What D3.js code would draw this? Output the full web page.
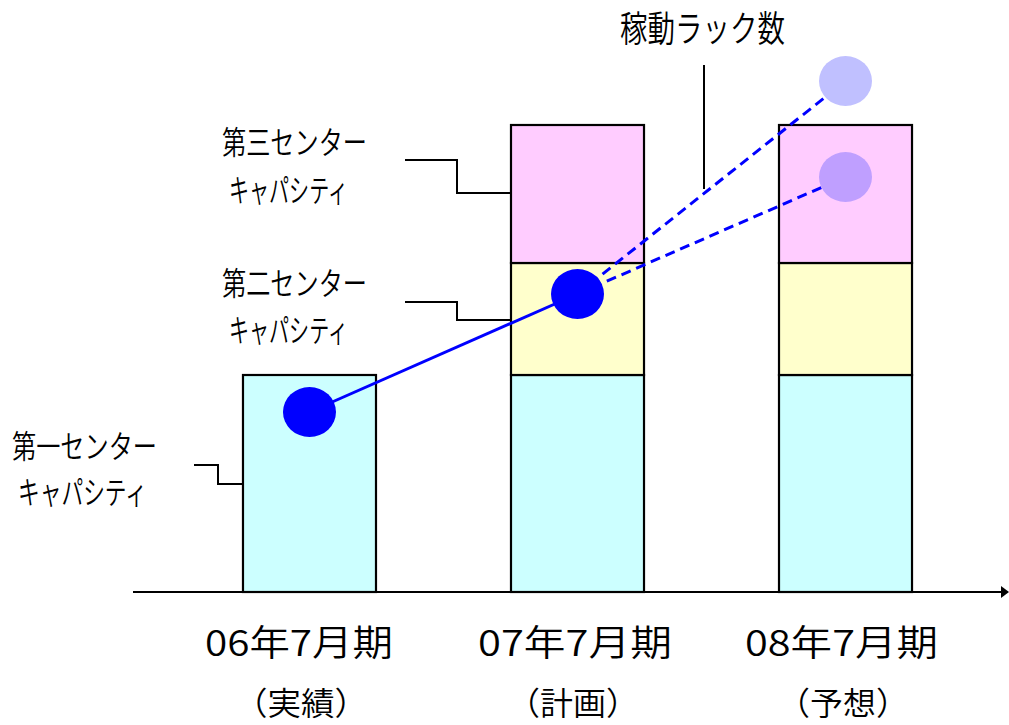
<!DOCTYPE html>
<html><head><meta charset="utf-8">
<script src="https://cdn.jsdelivr.net/npm/d3@7"></script>
<style>
html,body{margin:0;padding:0;background:#fff;}
svg{display:block;}
text{font-family:"Noto Sans CJK JP","Noto Sans",sans-serif;fill:#000;font-weight:350;}
</style></head>
<body>
<svg id="chart" width="1009" height="725"></svg>
<script>
// ---- data ----
const categories = ["06年7月期", "07年7月期", "08年7月期"];
const subLabels = ["（実績）", "（計画）", "（予想）"];
const seriesNames = ["第一センター", "第二センター", "第三センター"];
const seriesSubName = "キャパシティ";
const center1 = [217, 217, 217];
const center2 = [0, 112, 112];
const center3 = [0, 138, 138];
const racksActual = [180, 298, null];
const racksForecastLow = [null, 298, 415];
const racksForecastHigh = [null, 298, 511];
const seriesColors = ["#CCFFFF", "#FFFFCC", "#FFCCFF"];

// ---- layout ----
const svg = d3.select("#chart");
const x = d3.scaleBand().domain(categories).range([175.5, 979.5]).paddingInner(0.5037).paddingOuter(0.2518);
const y = d3.scaleLinear().domain([0, 520]).range([592, 72]);

const stackData = categories.map((c, i) => ({cat: c, s0: center1[i], s1: center2[i], s2: center3[i]}));
const stack = d3.stack().keys(["s0", "s1", "s2"])(stackData);

const bars = svg.append("g");
stack.forEach((layer, li) => {
  bars.selectAll(null).data(layer.filter(d => d[1] - d[0] > 0)).enter().append("rect")
    .attr("x", d => x(d.data.cat))
    .attr("width", x.bandwidth())
    .attr("y", d => y(d[1]))
    .attr("height", d => y(d[0]) - y(d[1]))
    .attr("fill", seriesColors[li])
    .attr("stroke", "#000")
    .attr("stroke-width", 2.2);
});

// axis baseline with arrow
svg.append("line").attr("x1", 133).attr("x2", 1003).attr("y1", y(0)).attr("y2", y(0))
  .attr("stroke", "#000").attr("stroke-width", 2);
svg.append("path").attr("d", `M1001,${y(0) - 6} L1009,${y(0)} L1001,${y(0) + 6} Z`).attr("fill", "#000");

// category labels
const cx = c => x(c) + x.bandwidth() / 2;
const catLabelBox = [[205, 188], [478, 194], [745, 193]];
const subLabelBox = [[234, 134], [507, 132], [777, 132]];
categories.forEach((c, i) => {
  svg.append("text").attr("x", catLabelBox[i][0]).attr("y", 640)
    .attr("dominant-baseline", "central").attr("font-size", 36)
    .attr("textLength", catLabelBox[i][1]).attr("lengthAdjust", "spacingAndGlyphs").text(c);
  svg.append("text").attr("x", subLabelBox[i][0]).attr("y", 701)
    .attr("dominant-baseline", "central").attr("font-size", 32)
    .attr("textLength", subLabelBox[i][1]).attr("lengthAdjust", "spacingAndGlyphs").text(subLabels[i]);
});

// series labels with leader lines
const seriesLabelPos = [
  {x1: 12, w1: 145, y1: 444, x2: 18, w2: 129, y2: 490, path: [[194, 465], [218, 465], [218, 484], [243, 484]]},
  {x1: 222, w1: 145, y1: 281, x2: 229, w2: 119, y2: 328, path: [[405, 302], [457, 302], [457, 320], [510, 320]]},
  {x1: 222, w1: 145, y1: 140, x2: 229, w2: 119, y2: 188, path: [[405, 160], [457, 160], [457, 193], [510, 193]]}
];
seriesNames.forEach((n, i) => {
  const p = seriesLabelPos[i];
  svg.append("text").attr("x", p.x1).attr("y", p.y1).attr("dominant-baseline", "central")
    .attr("font-size", 32).attr("textLength", p.w1).attr("lengthAdjust", "spacingAndGlyphs").text(n);
  svg.append("text").attr("x", p.x2).attr("y", p.y2).attr("dominant-baseline", "central")
    .attr("font-size", 32).attr("textLength", p.w2).attr("lengthAdjust", "spacingAndGlyphs").text(seriesSubName);
  svg.append("path").attr("d", d3.line()(p.path)).attr("fill", "none")
    .attr("stroke", "#000").attr("stroke-width", 2);
});

// rack count lines and dots
const pts = arr => arr.map((v, i) => v == null ? null : [cx(categories[i]), y(v)]).filter(Boolean);
const line = d3.line();
svg.append("path").attr("d", line(pts(racksActual))).attr("fill", "none")
  .attr("stroke", "#0000FF").attr("stroke-width", 3);
svg.append("path").attr("d", line(pts(racksForecastLow))).attr("fill", "none")
  .attr("stroke", "#0000FF").attr("stroke-width", 3).attr("stroke-dasharray", "10,6");
svg.append("path").attr("d", line(pts(racksForecastHigh))).attr("fill", "none")
  .attr("stroke", "#0000FF").attr("stroke-width", 3).attr("stroke-dasharray", "10,6");

const dots = [
  {v: racksActual[0], i: 0, c: "#0000FF"},
  {v: racksActual[1], i: 1, c: "#0000FF"},
  {v: racksForecastLow[2], i: 2, c: "#BF9FFF"},
  {v: racksForecastHigh[2], i: 2, c: "#C0C0FF"}
];
svg.selectAll(null).data(dots).enter().append("ellipse")
  .attr("cx", d => cx(categories[d.i])).attr("cy", d => y(d.v))
  .attr("rx", 26.5).attr("ry", 25).attr("fill", d => d.c);

// rack count label
svg.append("text").attr("x", 620).attr("y", 26).attr("dominant-baseline", "central")
  .attr("font-size", 36).attr("textLength", 165).attr("lengthAdjust", "spacingAndGlyphs").text("稼動ラック数");
svg.append("line").attr("x1", 704).attr("x2", 704).attr("y1", 65).attr("y2", 189)
  .attr("stroke", "#000").attr("stroke-width", 2);
</script>
</body></html>
